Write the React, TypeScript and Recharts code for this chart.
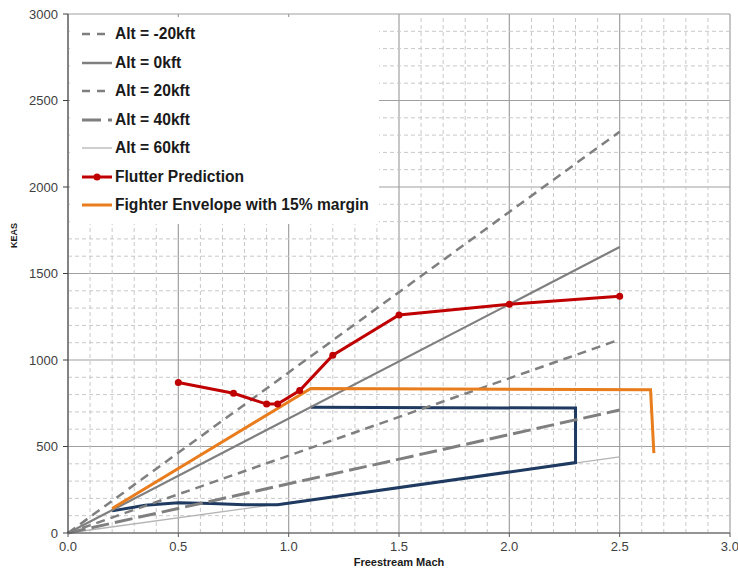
import React from 'react';
import {
  LineChart, Line, XAxis, YAxis, CartesianGrid, ReferenceLine,
} from 'recharts';

// altitude reference lines: KEAS at Mach 0 and Mach 2.5
const ALT_MACH = [0, 2.5];
const ALT_M20 = [0, 2320];
const ALT_0 = [0, 1653];
const ALT_20 = [0, 1118];
const ALT_40 = [0, 711];
const ALT_60 = [0, 440];

const FLUTTER_MACH = [0.5, 0.75, 0.9, 0.95, 1.05, 1.2, 1.5, 2.0, 2.5];
const FLUTTER_KEAS = [870, 808, 745, 745, 823, 1028, 1260, 1322, 1368];

const ENV_MACH = [0.2, 1.1, 2.64, 2.655];
const ENV_KEAS = [142, 835, 828, 462];

// unlabelled navy outline
const NAVY_MACH = [0.2, 0.35, 0.5, 0.65, 0.8, 0.95, 2.3, 2.3, 1.1];
const NAVY_KEAS = [128, 160, 175, 170, 164, 163, 407, 722, 727];

const X_TICKS = [0, 0.5, 1.0, 1.5, 2.0, 2.5, 3.0];
const Y_TICKS = [0, 500, 1000, 1500, 2000, 2500, 3000];
const X_MINOR = [0.1, 0.2, 0.3, 0.4, 0.6, 0.7, 0.8, 0.9, 1.1, 1.2, 1.3, 1.4, 1.6, 1.7, 1.8, 1.9, 2.1, 2.2, 2.3, 2.4, 2.6, 2.7, 2.8, 2.9];
const Y_MINOR = [100, 200, 300, 400, 600, 700, 800, 900, 1100, 1200, 1300, 1400, 1600, 1700, 1800, 1900, 2100, 2200, 2300, 2400, 2600, 2700, 2800, 2900];

const toPts = (xs: number[], ys: number[]) => xs.map((x, i) => ({ x, y: ys[i] }));

const GRAY = '#7f7f7f';
const FONT = 'Liberation Sans, Arial, sans-serif';

const LEGEND_ITEMS = [
  { label: 'Alt = -20kft', color: GRAY, width: 2.5, dash: '8 7' },
  { label: 'Alt = 0kft', color: GRAY, width: 2.5, dash: undefined },
  { label: 'Alt = 20kft', color: GRAY, width: 2.5, dash: '8 7' },
  { label: 'Alt = 40kft', color: GRAY, width: 3, dash: '19 7' },
  { label: 'Alt = 60kft', color: '#b4b4b4', width: 1.3, dash: undefined },
  { label: 'Flutter Prediction', color: '#c00000', width: 3, dash: undefined, dot: true },
  { label: 'Fighter Envelope with 15% margin', color: '#e97c1c', width: 3, dash: undefined },
];

const LegendBox = () => (
  <div style={{ position: 'absolute', left: 70, top: 17, width: 297, padding: '3px 0 4px 12px', background: '#fff' }}>
    {LEGEND_ITEMS.map((it) => (
      <div key={it.label} style={{ display: 'flex', alignItems: 'center', height: 28.5 }}>
        <svg width={31} height={12} style={{ marginRight: 2 }}>
          <line x1={0} y1={6} x2={30} y2={6} stroke={it.color} strokeWidth={it.width} strokeDasharray={it.dash} />
          {it.dot && <circle cx={15} cy={6} r={3.5} fill={it.color} />}
        </svg>
        <span style={{ fontFamily: FONT, fontWeight: 'bold', fontSize: 15.6, color: '#1a1a1a', whiteSpace: 'nowrap' }}>
          {it.label}
        </span>
      </div>
    ))}
  </div>
);

const tickStyle = { fontFamily: FONT, fontSize: 13, fill: '#404040' };

export default function App() {
  return (
    <div style={{ position: 'absolute', left: 0, top: 0, width: 738, height: 569, background: '#fff' }}>
      <LineChart width={738} height={569} margin={{ top: 14, right: 8, bottom: 0, left: 0 }}>
        {X_MINOR.map((v) => (
          <ReferenceLine key={`mx${v}`} x={v} stroke="#c8c8c8" strokeDasharray="4 3" />
        ))}
        {Y_MINOR.map((v) => (
          <ReferenceLine key={`my${v}`} y={v} stroke="#c8c8c8" strokeDasharray="4 3" />
        ))}
        <CartesianGrid stroke="#a0a0a0" strokeWidth={1.2} />
        <XAxis
          type="number" dataKey="x" domain={[0, 3]} ticks={X_TICKS} height={36}
          tickFormatter={(v: number) => v.toFixed(1)} tick={tickStyle}
          stroke="#595959" tickSize={4} tickMargin={5}
          label={{
            content: ({ viewBox }: any) => (
              <text x={viewBox.x + viewBox.width / 2} y={viewBox.y + 33} textAnchor="middle"
                style={{ fontFamily: FONT, fontSize: 11, fontWeight: 'bold', fill: '#1a1a1a' }}>
                Freestream Mach
              </text>
            ),
          }}
        />
        <YAxis
          type="number" domain={[0, 3000]} ticks={Y_TICKS} width={68}
          tick={tickStyle} stroke="#404040" tickSize={5} tickMargin={5}
          label={{
            content: ({ viewBox }: any) => {
              const cx = 14;
              const cy = viewBox.y + viewBox.height / 2 - 38;
              return (
                <text x={cx} y={cy} textAnchor="middle" dominantBaseline="central" transform={`rotate(-90 ${cx} ${cy})`}
                  style={{ fontFamily: FONT, fontSize: 9, fontWeight: 'bold', fill: '#1a1a1a' }}>
                  KEAS
                </text>
              );
            },
          }}
        />
        <Line data={toPts(ALT_MACH, ALT_60)} dataKey="y" stroke="#b4b4b4" strokeWidth={1.3} dot={false} isAnimationActive={false} />
        <Line data={toPts(NAVY_MACH, NAVY_KEAS)} dataKey="y" stroke="#1f3a60" strokeWidth={3} dot={false} isAnimationActive={false} />
        <Line data={toPts(ALT_MACH, ALT_40)} dataKey="y" stroke={GRAY} strokeWidth={3} strokeDasharray="18 6" dot={false} isAnimationActive={false} />
        <Line data={toPts(ALT_MACH, ALT_20)} dataKey="y" stroke={GRAY} strokeWidth={2.5} strokeDasharray="9 6" dot={false} isAnimationActive={false} />
        <Line data={toPts(ALT_MACH, ALT_0)} dataKey="y" stroke={GRAY} strokeWidth={2.2} dot={false} isAnimationActive={false} />
        <Line data={toPts(ALT_MACH, ALT_M20)} dataKey="y" stroke={GRAY} strokeWidth={2.5} strokeDasharray="9 6" dot={false} isAnimationActive={false} />
        <Line data={toPts(ENV_MACH, ENV_KEAS)} dataKey="y" stroke="#e97c1c" strokeWidth={3} dot={false} isAnimationActive={false} />
        <Line data={toPts(FLUTTER_MACH, FLUTTER_KEAS)} dataKey="y" stroke="#c00000" strokeWidth={3} dot={{ r: 3.5, fill: '#c00000', stroke: '#c00000', strokeWidth: 0 }} isAnimationActive={false} />
      </LineChart>
      <LegendBox />
    </div>
  );
}
